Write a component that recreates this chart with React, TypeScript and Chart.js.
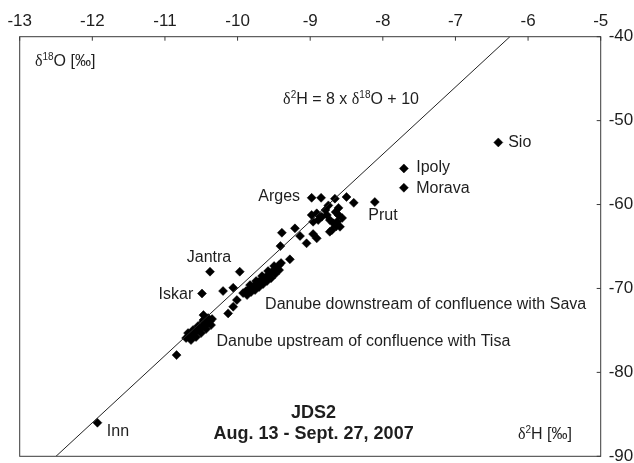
import React, { useEffect, useRef } from 'react';
import { Chart, registerables } from 'chart.js';

Chart.register(...registerables);

// Axis ranges / ticks
const xMin = -13;
const xMax = -5;
const yMin = -90;
const yMax = -40;

// Named tributaries
const tribNames = ['Inn', 'Sio', 'Ipoly', 'Morava', 'Prut', 'Jantra', 'Iskar'];
const tribX = [-11.93, -6.41, -7.71, -7.71, -8.11, -10.38, -10.49];
const tribY = [-86.0, -52.6, -55.7, -58.0, -59.7, -68.0, -70.6];

// Danube and other samples (δ18O, δ2H)
const danubeX = [
  -8.98, -8.85, -8.66, -8.5, -8.4, -8.75, -8.61,
  -8.98, -8.91, -8.96, -8.84, -8.77, -8.73, -8.68, -8.61, -8.63, -8.59, -8.7, -8.73, -8.89, -8.79, -8.65, -8.56, -8.64,
  -9.39, -9.21, -9.14, -8.96, -8.91, -9.05, -9.41, -9.28,
  -9.97, -10.2, -10.06, -10.13, -10.06, -10.01, -10.47, -10.47, -10.84,
  -9.924, -9.883, -9.842, -9.8, -9.759, -9.718, -9.676, -9.635, -9.594, -9.552, -9.511, -9.47, -9.428, -9.401,
  -9.869, -9.814, -9.759, -9.704, -9.649, -9.594, -9.539, -9.483, -9.428,
  -9.828, -9.745, -9.663, -9.58, -9.497,
  -10.709, -10.668, -10.627, -10.586, -10.544, -10.503, -10.462, -10.42, -10.379, -10.351,
  -10.641, -10.572, -10.503, -10.434, -10.365,
  -10.682, -10.613, -10.544, -10.475, -10.406,
];
const danubeY = [
  -59.2, -59.2, -59.3, -59.1, -59.8, -60.1, -60.4,
  -61.25, -61.05, -62.05, -61.45, -61.25, -61.85, -62.24, -61.25, -62.05, -62.65, -63.04, -63.24, -61.85, -60.66, -60.9, -61.6, -62.6,
  -63.36, -62.84, -63.75, -63.52, -64.03, -64.62, -64.95, -66.53,
  -68.0, -70.31, -69.92, -72.97, -72.18, -71.38, -73.17, -73.77, -77.94,
  -70.55, -70.31, -70.07, -69.84, -69.6, -69.24, -69.0, -68.77, -68.53, -68.17, -67.93, -67.57, -67.21, -66.97,
  -70.79, -70.43, -70.19, -69.84, -69.48, -69.12, -68.77, -68.29, -67.81,
  -69.6, -69.12, -68.53, -67.93, -67.33,
  -75.91, -75.67, -75.43, -75.2, -74.96, -74.72, -74.48, -74.24, -73.89, -73.65,
  -76.15, -75.79, -75.32, -74.84, -74.36,
  -75.32, -74.96, -74.48, -74.0, -73.53,
];

// Meteoric water line δ2H = 8 x δ18O + 10 (end points)
const gmwlX = [-12.5, -6.25];
const gmwlY = [-90, -40];

type Seg = { t: string; sup?: boolean; serif?: boolean };
type Note = { segs: Seg[]; x: number; y: number; align: 'left' | 'right' | 'center'; bold?: boolean; size?: number };

const SANS = '"Liberation Sans", Arial, sans-serif';
const SERIF = '"Liberation Serif", "Times New Roman", serif';
const TEXT = '#1e1e1e';

const notes: Note[] = [
  { segs: [{ t: 'δ', serif: true }, { t: '18', sup: true }, { t: 'O [‰]' }], x: -12.79, y: -42.98, align: 'left' },
  { segs: [{ t: 'δ', serif: true }, { t: '2', sup: true }, { t: 'H = 8 x ' }, { t: 'δ', serif: true }, { t: '18', sup: true }, { t: 'O + 10' }], x: -9.373, y: -47.54, align: 'left' },
  { segs: [{ t: 'Sio' }], x: -6.274, y: -52.63, align: 'left' },
  { segs: [{ t: 'Ipoly' }], x: -7.54, y: -55.6, align: 'left' },
  { segs: [{ t: 'Morava' }], x: -7.54, y: -58.07, align: 'left' },
  { segs: [{ t: 'Prut' }], x: -8.2, y: -61.31, align: 'left' },
  { segs: [{ t: 'Arges' }], x: -9.14, y: -59.1, align: 'right' },
  { segs: [{ t: 'Jantra' }], x: -10.7, y: -66.29, align: 'left' },
  { segs: [{ t: 'Iskar' }], x: -10.61, y: -70.7, align: 'right' },
  { segs: [{ t: 'Danube downstream of confluence with Sava' }], x: -9.621, y: -71.98, align: 'left' },
  { segs: [{ t: 'Danube upstream of confluence with Tisa' }], x: -10.29, y: -76.35, align: 'left' },
  { segs: [{ t: 'Inn' }], x: -11.8, y: -87.03, align: 'left' },
  { segs: [{ t: 'δ', serif: true }, { t: '2', sup: true }, { t: 'H [‰]' }], x: -6.14, y: -87.44, align: 'left' },
  { segs: [{ t: 'JDS2' }], x: -8.953, y: -84.85, align: 'center', bold: true, size: 18 },
  { segs: [{ t: 'Aug. 13 - Sept. 27, 2007' }], x: -8.953, y: -87.35, align: 'center', bold: true, size: 18 },
];

function segFont(s: Seg, size: number, bold?: boolean) {
  const sz = s.sup ? Math.round(size * 0.62) : size;
  return `${bold ? 'bold ' : ''}${sz}px ${s.serif ? SERIF : SANS}`;
}

const decorPlugin = {
  id: 'decor',
  afterDraw(chart: any) {
    const { ctx, chartArea, scales } = chart;
    const xs = scales.x;
    const ys = scales.y;
    ctx.save();
    // frame
    ctx.strokeStyle = '#3a3a3a';
    ctx.lineWidth = 1;
    ctx.strokeRect(chartArea.left, chartArea.top, chartArea.right - chartArea.left, chartArea.bottom - chartArea.top);
    // inward ticks
    ctx.beginPath();
    for (const t of xs.ticks) {
      const px = xs.getPixelForValue(t.value);
      ctx.moveTo(px, chartArea.top);
      ctx.lineTo(px, chartArea.top + 4);
    }
    for (const t of ys.ticks) {
      const py = ys.getPixelForValue(t.value);
      ctx.moveTo(chartArea.right, py);
      ctx.lineTo(chartArea.right - 4, py);
    }
    ctx.stroke();
    // annotations
    ctx.fillStyle = TEXT;
    ctx.textBaseline = 'middle';
    for (const n of notes) {
      const size = n.size || 16;
      let total = 0;
      const widths = n.segs.map((s) => {
        ctx.font = segFont(s, size, n.bold);
        const w = ctx.measureText(s.t).width;
        total += w;
        return w;
      });
      let px = xs.getPixelForValue(n.x);
      const py = ys.getPixelForValue(n.y);
      if (n.align === 'right') px -= total;
      else if (n.align === 'center') px -= total / 2;
      ctx.textAlign = 'left';
      n.segs.forEach((s, i) => {
        ctx.font = segFont(s, size, n.bold);
        ctx.fillText(s.t, px, s.sup ? py - size * 0.3 : py);
        px += widths[i];
      });
    }
    ctx.restore();
  },
};

export default function App() {
  const ref = useRef<HTMLCanvasElement | null>(null);
  useEffect(() => {
    document.body.style.margin = '0';
    const canvas = ref.current!;
    const pts = danubeX.map((x, i) => ({ x, y: danubeY[i] }));
    const tribPts = tribX.map((x, i) => ({ x, y: tribY[i] }));
    const linePts = gmwlX.map((x, i) => ({ x, y: gmwlY[i] }));
    const pointStyle = {
      pointStyle: 'rectRot',
      pointRadius: 4.5,
      pointHoverRadius: 4.5,
      pointBackgroundColor: '#000',
      pointBorderColor: '#000',
      pointBorderWidth: 0.5,
      showLine: false,
    };
    const chart = new Chart(canvas, {
      type: 'scatter',
      data: {
        datasets: [
          {
            type: 'line',
            label: 'GMWL',
            data: linePts,
            borderColor: '#222',
            borderWidth: 1,
            pointRadius: 0,
            fill: false,
            tension: 0,
          } as any,
          { label: 'Danube', data: pts, ...pointStyle } as any,
          { label: 'Tributaries', data: tribPts, ...pointStyle } as any,
        ],
      },
      options: {
        animation: false,
        responsive: false,
        devicePixelRatio: 1,
        events: [],
        layout: { padding: { left: 19.7, right: 0, top: 0, bottom: 6.7 } },
        plugins: { legend: { display: false }, tooltip: { enabled: false } },
        scales: {
          x: {
            type: 'linear',
            position: 'top',
            min: xMin,
            max: xMax,
            grid: { display: false, drawTicks: false, tickLength: 0 },
            border: { display: false },
            ticks: {
              stepSize: 1,
              autoSkip: false,
              padding: 5,
              color: TEXT,
              font: { family: SANS, size: 17 },
              maxRotation: 0,
              callback: (v: any) => String(v),
            },
            afterFit: (s: any) => {
              s.height = 36.7;
              s.paddingLeft = 0;
              s.paddingRight = 0;
            },
          },
          y: {
            type: 'linear',
            position: 'right',
            min: yMin,
            max: yMax,
            grid: { display: false, drawTicks: false, tickLength: 0 },
            border: { display: false },
            ticks: {
              stepSize: 10,
              autoSkip: false,
              padding: 8,
              color: TEXT,
              font: { family: SANS, size: 17 },
              callback: (v: any) => String(v),
            },
            afterFit: (s: any) => {
              s.width = 33.3;
              s.paddingTop = 0;
              s.paddingBottom = 0;
            },
          },
        },
      },
      plugins: [decorPlugin],
    });
    return () => chart.destroy();
  }, []);
  return (
    <div style={{ position: 'absolute', left: 0, top: 0, width: 634, height: 463, background: '#fff' }}>
      <canvas ref={ref} width={634} height={463} style={{ display: 'block' }} />
    </div>
  );
}
